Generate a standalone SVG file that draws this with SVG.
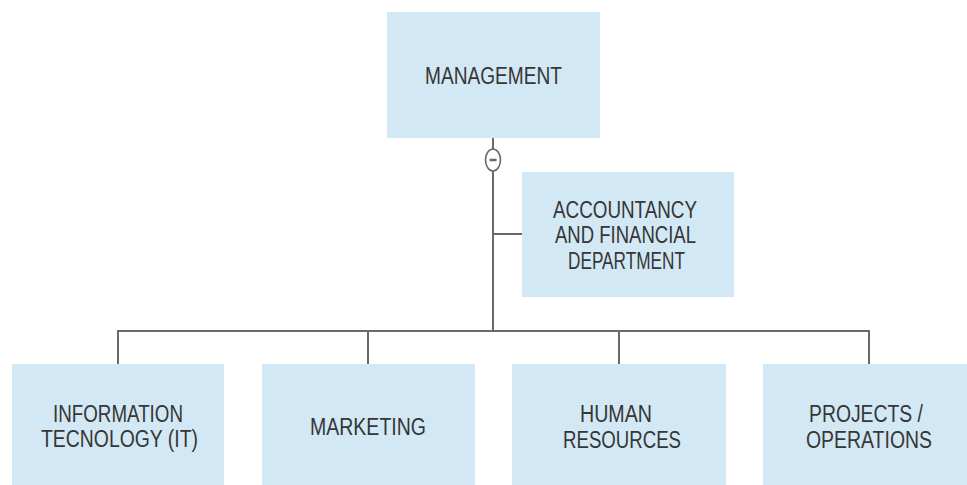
<svg xmlns="http://www.w3.org/2000/svg" width="967" height="485" viewBox="0 0 967 485">
  <style>
    .box { fill: #d2e8f5; }
    .lbl { font-family: "Liberation Sans", Arial, sans-serif; font-size: 23.5px; fill: #363636; text-anchor: middle; }
    .wire { fill: none; stroke: #6a6a6a; stroke-width: 2; }
  </style>
  <rect width="967" height="485" fill="#ffffff"/>

  <!-- connectors -->
  <g id="connectors" class="wire">
    <line x1="493" y1="138" x2="493" y2="149"/>
    <line x1="493" y1="171" x2="493" y2="331"/>
    <line x1="493" y1="234" x2="522" y2="234"/>
    <path d="M118 364 V331 H869 V364"/>
    <line x1="368" y1="331" x2="368" y2="364"/>
    <line x1="619" y1="331" x2="619" y2="364"/>
    <g id="collapse-toggle">
      <ellipse cx="493" cy="160" rx="7.5" ry="11" fill="#ffffff" stroke-width="1.6"/>
      <line x1="489.5" y1="160" x2="496.5" y2="160" stroke-width="2.5"/>
    </g>
  </g>

  <g id="management">
    <rect class="box" x="387" y="12" width="213" height="126"/>
    <text class="lbl" x="493.5" y="84" textLength="137" lengthAdjust="spacingAndGlyphs">MANAGEMENT</text>
  </g>

  <g id="accountancy">
    <rect class="box" x="522" y="172" width="212" height="125"/>
    <text class="lbl" x="625" y="218" textLength="144" lengthAdjust="spacingAndGlyphs">ACCOUNTANCY</text>
    <text class="lbl" x="625.5" y="243" textLength="141" lengthAdjust="spacingAndGlyphs">AND FINANCIAL</text>
    <text class="lbl" x="626.5" y="268.5" textLength="117" lengthAdjust="spacingAndGlyphs">DEPARTMENT</text>
  </g>

  <g id="information-technology">
    <rect class="box" x="12" y="364" width="212" height="130"/>
    <text class="lbl" x="118" y="422" textLength="130" lengthAdjust="spacingAndGlyphs">INFORMATION</text>
    <text class="lbl" x="119.5" y="447" textLength="157" lengthAdjust="spacingAndGlyphs">TECNOLOGY (IT)</text>
  </g>

  <g id="marketing">
    <rect class="box" x="262" y="364" width="213" height="130"/>
    <text class="lbl" x="368" y="435" textLength="116" lengthAdjust="spacingAndGlyphs">MARKETING</text>
  </g>

  <g id="human-resources">
    <rect class="box" x="512" y="364" width="214" height="130"/>
    <text class="lbl" x="616" y="422" textLength="72" lengthAdjust="spacingAndGlyphs">HUMAN</text>
    <text class="lbl" x="622" y="448" textLength="118" lengthAdjust="spacingAndGlyphs">RESOURCES</text>
  </g>

  <g id="projects-operations">
    <rect class="box" x="763" y="364" width="214" height="130"/>
    <text class="lbl" x="866" y="422" textLength="114" lengthAdjust="spacingAndGlyphs">PROJECTS /</text>
    <text class="lbl" x="869" y="448" textLength="126" lengthAdjust="spacingAndGlyphs">OPERATIONS</text>
  </g>
</svg>
